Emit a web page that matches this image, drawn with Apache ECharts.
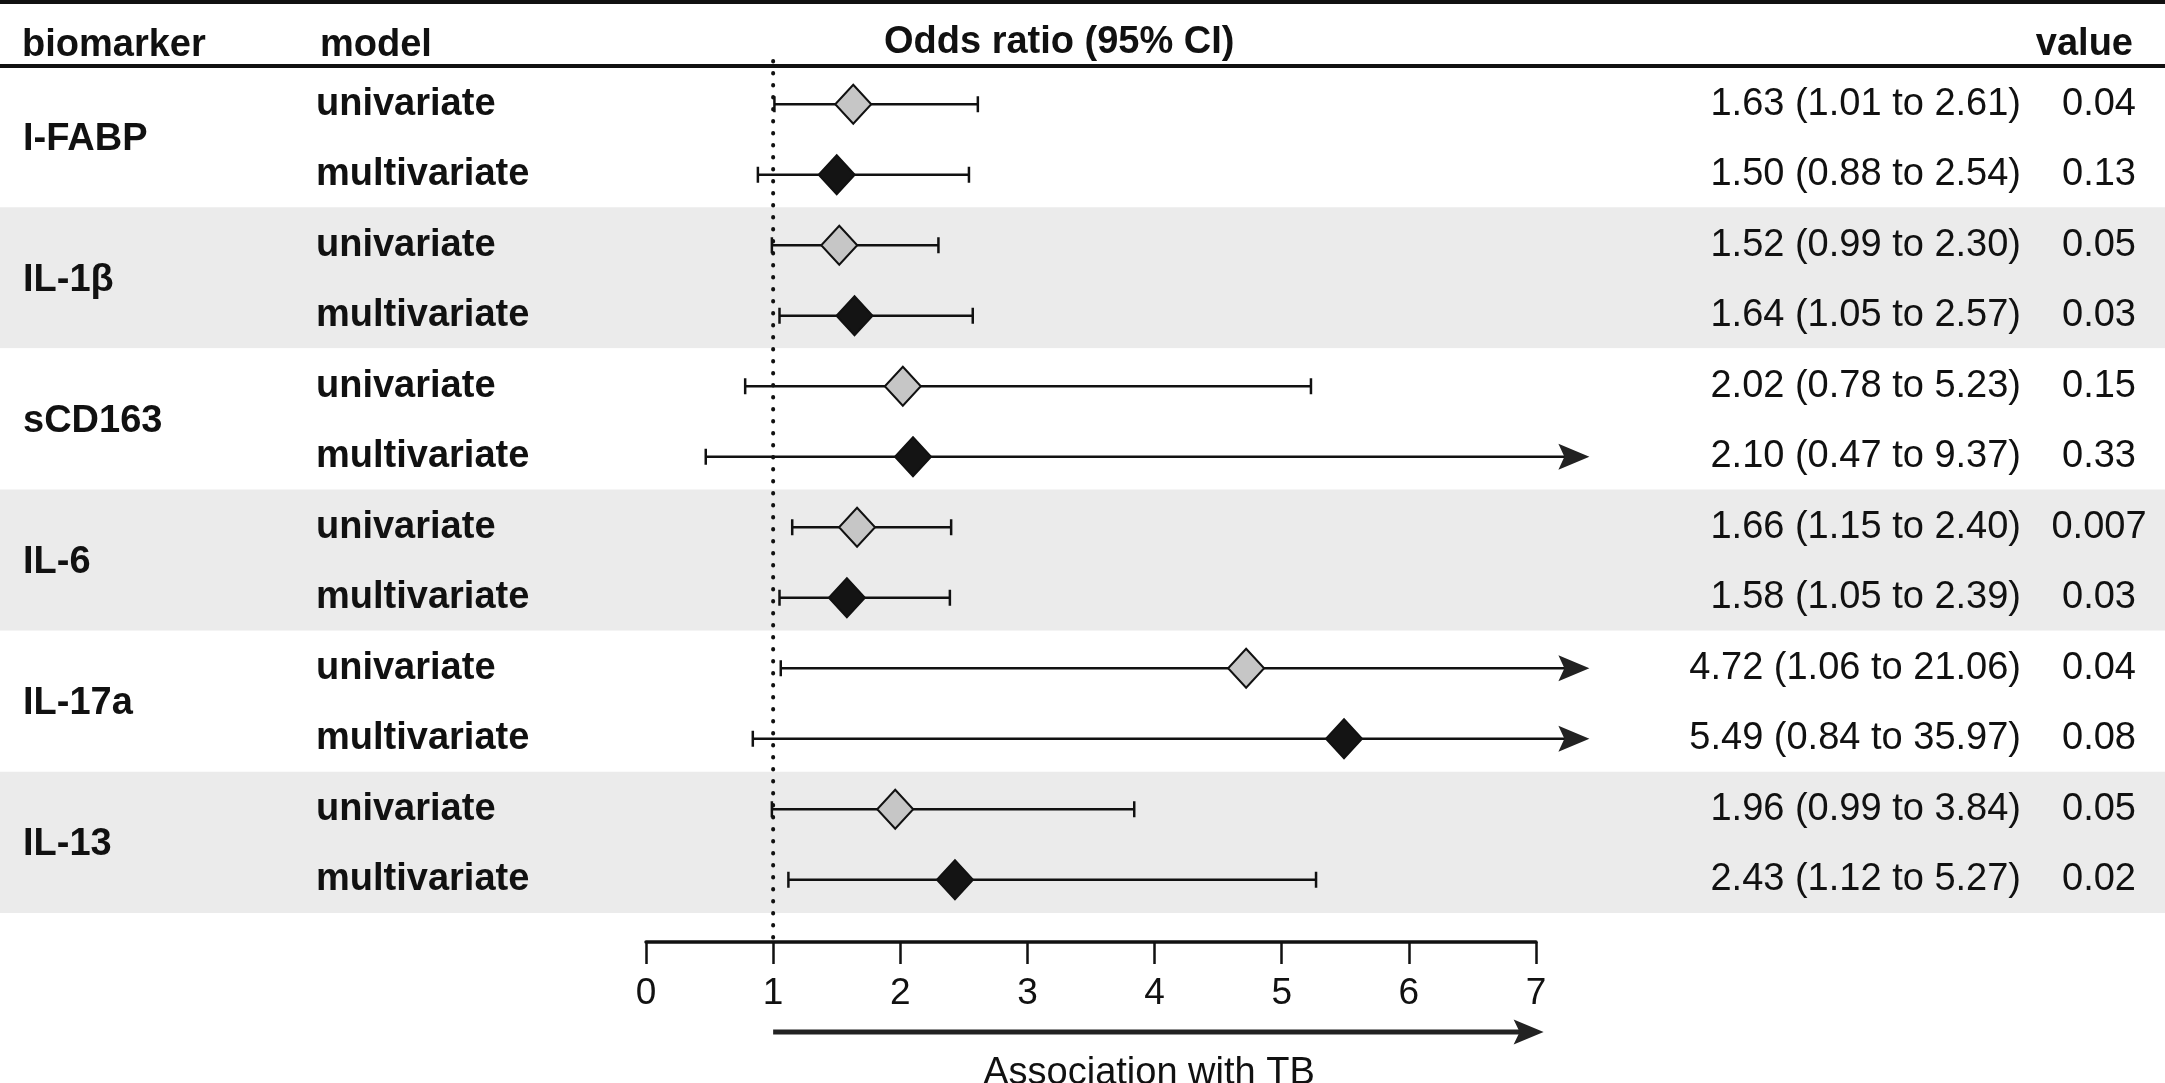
<!DOCTYPE html>
<html lang="en">
<head>
    <meta charset="UTF-8">
    <title>forest plot</title>
    <script src="https://cdn.jsdelivr.net/npm/echarts@6/dist/echarts.min.js"></script>
    <style>
        html, body {
            margin: 0;
            padding: 0;
            background: #fff;
        }
        #chart {
            width: 2165px;
            height: 1083px;
        }
    </style>
</head>
<body>
<div id="chart"></div>
<script>
    // data
    var biomarkers = ['I-FABP', 'IL-1β', 'sCD163', 'IL-6', 'IL-17a', 'IL-13'];
    var models = ['univariate', 'multivariate'];
    var oddsRatio = [1.63, 1.50, 1.52, 1.64, 2.02, 2.10, 1.66, 1.58, 4.72, 5.49, 1.96, 2.43];
    var ciLow = [1.01, 0.88, 0.99, 1.05, 0.78, 0.47, 1.15, 1.05, 1.06, 0.84, 0.99, 1.12];
    var ciHigh = [2.61, 2.54, 2.30, 2.57, 5.23, 9.37, 2.40, 2.39, 21.06, 35.97, 3.84, 5.27];
    var pValues = ['0.04', '0.13', '0.05', '0.03', '0.15', '0.33', '0.007', '0.03', '0.04', '0.08', '0.05', '0.02'];
    var xMin = 0, xMax = 7;

    var FONT = '"Liberation Sans", Arial, sans-serif';
    var ARROW_LIMIT = 7.42;   // CIs past this are drawn as arrows
    var TB_ARROW_END = 7.06;

    // one row per biomarker/model pair
    var rowLabels = [];
    var orLabels = [];
    var rows = [];
    for (var i = 0; i < oddsRatio.length; i++) {
        rowLabels.push(models[i % 2]);
        orLabels.push(oddsRatio[i].toFixed(2) + ' (' + ciLow[i].toFixed(2) + ' to ' + ciHigh[i].toFixed(2) + ')');
        rows.push([i, oddsRatio[i], ciLow[i], ciHigh[i]]);
    }

    function renderCI(params, api) {
        var row = api.value(0);
        var or = api.value(1), lo = api.value(2), hi = api.value(3);
        var multi = row % 2 === 1;
        var y = api.coord([0, row])[1];
        var xLo = api.coord([lo, row])[0];
        var clipped = hi > ARROW_LIMIT;
        var xHi = api.coord([clipped ? ARROW_LIMIT : hi, row])[0];
        var xOr = api.coord([or, row])[0];
        var ink = '#111';
        var kids = [];
        kids.push({
            type: 'line',
            shape: {x1: xLo, y1: y, x2: clipped ? xHi - 20 : xHi, y2: y},
            style: {stroke: ink, lineWidth: 2.5}
        });
        kids.push({
            type: 'line',
            shape: {x1: xLo, y1: y - 8, x2: xLo, y2: y + 8},
            style: {stroke: ink, lineWidth: 2.5}
        });
        if (clipped) {
            kids.push({
                type: 'polygon',
                shape: {points: [[xHi, y], [xHi - 31, y - 13], [xHi - 25, y], [xHi - 31, y + 13]]},
                style: {fill: '#222'}
            });
        } else {
            kids.push({
                type: 'line',
                shape: {x1: xHi, y1: y - 8, x2: xHi, y2: y + 8},
                style: {stroke: ink, lineWidth: 2.5}
            });
        }
        kids.push({
            type: 'polygon',
            shape: {points: [[xOr, y - 19.5], [xOr + 18, y], [xOr, y + 19.5], [xOr - 18, y]]},
            style: {fill: multi ? '#141414' : '#c6c6c6', stroke: ink, lineWidth: 2},
            z2: 10
        });
        return {type: 'group', children: kids};
    }

    // dotted reference line at OR = 1
    function renderRef(params, api) {
        var x = api.coord([api.value(0), 0])[0];
        var cs = params.coordSys;
        return {
            type: 'line',
            shape: {x1: x, y1: cs.y - 8, x2: x, y2: cs.y + cs.height + 24},
            style: {stroke: '#111', lineWidth: 4, lineDash: [0.5, 11.5], lineCap: 'round'}
        };
    }

    // "Association with TB" arrow below the axis
    function renderTB(params, api) {
        var x1 = api.coord([api.value(0), 0])[0];
        var x2 = api.coord([api.value(1), 0])[0];
        var cs = params.coordSys;
        var y = cs.y + cs.height + 117;
        return {
            type: 'group',
            children: [
                {type: 'line', shape: {x1: x1, y1: y, x2: x2 - 22, y2: y}, style: {stroke: '#222', lineWidth: 5}},
                {type: 'polygon', shape: {points: [[x2, y], [x2 - 30, y - 12.5], [x2 - 24, y], [x2 - 30, y + 12.5]]}, style: {fill: '#222'}}
            ]
        };
    }

    var chart = echarts.init(document.getElementById('chart'), null, {renderer: 'canvas'});
    chart.setOption({
        animation: false,
        textStyle: {fontFamily: FONT},
        grid: [
            // background bands, full width
            {left: 0, right: 0, top: 66, bottom: 170},
            // plot area
            {left: 646, right: 629, top: 69, bottom: 168}
        ],
        xAxis: [
            {gridIndex: 0, type: 'value', min: 0, max: 1, show: false},
            {
                gridIndex: 1, type: 'value', min: xMin, max: xMax, interval: 1,
                position: 'bottom', offset: 27,
                axisLine: {show: true, onZero: false, lineStyle: {color: '#111', width: 3.5}},
                axisTick: {show: true, length: 22, lineStyle: {color: '#111', width: 2.5}},
                axisLabel: {fontSize: 37, color: '#111', margin: 33, fontFamily: FONT},
                splitLine: {show: false}
            }
        ],
        yAxis: [
            {
                gridIndex: 0, type: 'category', data: biomarkers, inverse: true,
                axisLine: {show: false}, axisTick: {show: false}, axisLabel: {show: false},
                splitLine: {show: false},
                splitArea: {show: true, areaStyle: {color: ['#ffffff', '#ebebeb']}}
            },
            {
                gridIndex: 1, type: 'category', data: rowLabels, inverse: true, position: 'left',
                axisLine: {show: false}, axisTick: {show: false},
                axisLabel: {align: 'left', margin: 330, fontSize: 38, fontWeight: 'bold', color: '#111', fontFamily: FONT}
            },
            {
                gridIndex: 1, type: 'category', data: biomarkers, inverse: true, position: 'left',
                axisLine: {show: false}, axisTick: {show: false},
                axisLabel: {align: 'left', margin: 623, fontSize: 38, fontWeight: 'bold', color: '#111', fontFamily: FONT}
            },
            {
                gridIndex: 1, type: 'category', data: orLabels, inverse: true, position: 'right',
                axisLine: {show: false}, axisTick: {show: false},
                axisLabel: {align: 'right', margin: 485, fontSize: 38, color: '#111', fontFamily: FONT}
            },
            {
                gridIndex: 1, type: 'category', data: pValues, inverse: true, position: 'right',
                axisLine: {show: false}, axisTick: {show: false},
                axisLabel: {align: 'center', margin: 563, fontSize: 38, color: '#111', fontFamily: FONT}
            }
        ],
        series: [
            {
                type: 'custom', xAxisIndex: 1, yAxisIndex: 1, clip: false,
                renderItem: renderRef, data: [[1, 0]], encode: {x: 0, y: 1}, z: 3
            },
            {
                type: 'custom', xAxisIndex: 1, yAxisIndex: 1, clip: false,
                renderItem: renderCI, data: rows, encode: {x: [1, 2, 3], y: 0}, z: 5
            },
            {
                type: 'custom', xAxisIndex: 1, yAxisIndex: 1, clip: false,
                renderItem: renderTB, data: [[1, TB_ARROW_END, 0]], encode: {x: [0, 1], y: 2}, z: 5
            }
        ],
        graphic: [
            {type: 'line', shape: {x1: 0, y1: 2, x2: 2165, y2: 2}, style: {stroke: '#111', lineWidth: 4}},
            {type: 'line', shape: {x1: 0, y1: 66, x2: 2165, y2: 66}, style: {stroke: '#111', lineWidth: 4}, z: 10},
            {type: 'text', x: 22, y: 46, style: {text: 'biomarker', font: 'bold 38px ' + FONT, fill: '#111', verticalAlign: 'middle'}},
            {type: 'text', x: 320, y: 46, style: {text: 'model', font: 'bold 38px ' + FONT, fill: '#111', verticalAlign: 'middle'}},
            {type: 'text', x: 884, y: 43, style: {text: 'Odds ratio (95% CI)', font: 'bold 38px ' + FONT, fill: '#111', verticalAlign: 'middle'}},
            {type: 'text', x: 2133, y: 45, style: {text: 'value', font: 'bold 38px ' + FONT, fill: '#111', align: 'right', verticalAlign: 'middle'}},
            {type: 'text', x: 1149, y: 1074, style: {text: 'Association with TB', font: '38px ' + FONT, fill: '#111', align: 'center', verticalAlign: 'middle'}}
        ]
    });
</script>
</body>
</html>
